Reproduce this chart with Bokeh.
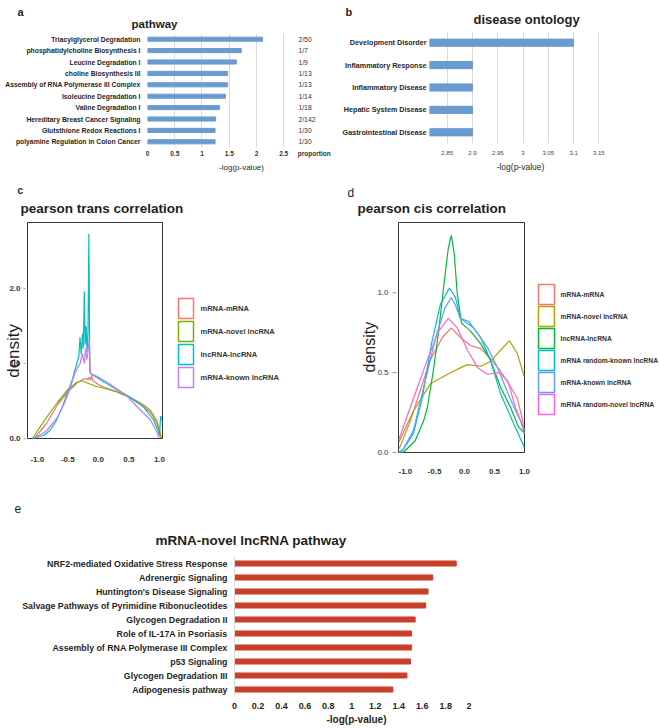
import math
from bokeh.plotting import figure
from bokeh.layouts import column, row
from bokeh.models import Range1d, FactorRange, FixedTicker, NumeralTickFormatter
from bokeh.core.properties import value
from bokeh.embed import file_html
from bokeh.resources import INLINE

FONT = "Liberation Sans"
BLUE = "#6A9BD0"
RED = "#C8402A"
GRID = "#D9D9D9"
DARK = "#1F1F1F"

# ---------------- data ----------------
pathway_names = ["Triacylglycerol Degradation", "phosphatidylcholine Biosynthesis I",
                 "Leucine Degradation I", "choline Biosynthesis III",
                 "Assembly of RNA Polymerase III Complex", "Isoleucine Degradation I",
                 "Valine Degradation I", "Hereditary Breast Cancer Signaling",
                 "Glutsthione Redox Reactions I", "polyamine Regulation in Colon Cancer"]
pathway_logp = [2.11, 1.72, 1.63, 1.47, 1.47, 1.43, 1.32, 1.25, 1.24, 1.24]
pathway_ratio = ["2/50", "1/7", "1/9", "1/13", "1/13", "1/14", "1/18", "2/142", "1/30", "1/30"]
pathway_ticks = [0, 0.5, 1, 1.5, 2, 2.5]
pathway_tick_labels = ["0", "0.5", "1", "1.5", "2", "2.5"]
ratio_column_title = "proportion"

disease_names = ["Development Disorder", "Inflammatory Response", "Inflammatory Disease",
                 "Hepatic System Disease", "Gastrointestinal Disease"]
disease_logp = [3.10, 2.90, 2.90, 2.90, 2.90]
disease_ticks = [2.85, 2.9, 2.95, 3.0, 3.05, 3.1, 3.15]
disease_axis_min = 2.815

novel_names = ["NRF2-mediated Oxidative Stress Response", "Adrenergic Signaling",
               "Huntington's Disease Signaling", "Salvage Pathways of Pyrimidine Ribonucleotides",
               "Glycogen Degradation II", "Role of IL-17A in Psoriasis",
               "Assembly of RNA Polymerase III Complex", "p53 Signaling",
               "Glycogen Degradation III", "Adipogenesis pathway"]
novel_logp = [1.89, 1.69, 1.65, 1.63, 1.54, 1.51, 1.51, 1.50, 1.47, 1.35]
novel_ticks = [0, 0.2, 0.4, 0.6, 0.8, 1, 1.2, 1.4, 1.6, 1.8, 2]

# trans correlation densities (panel c)
trans_names = ["mRNA-mRNA", "mRNA-novel lncRNA", "lncRNA-lncRNA", "mRNA-known lncRNA"]
trans_colors = ["#F8766D", "#7CAE00", "#00BFC4", "#C77CFF"]
trans_mm_x = [-1.05, -0.85, -0.67, -0.5, -0.35, -0.25, -0.2, -0.17, -0.15, -0.13, -0.11, -0.09,
              0.0, 0.1, 0.3, 0.5, 0.7, 0.85, 0.95, 1.0, 1.03]
trans_mm_y = [0.0, 0.2, 0.45, 0.62, 0.74, 0.79, 0.80, 0.78, 0.82, 0.78, 0.84, 0.77,
              0.72, 0.68, 0.63, 0.56, 0.47, 0.38, 0.25, 0.12, 0.0]
trans_novel_x = [-1.08, -0.85, -0.67, -0.5, -0.35, -0.27, -0.15, -0.05, 0.1, 0.3, 0.5, 0.7,
                 0.85, 0.95, 1.0, 1.03]
trans_novel_y = [0.0, 0.28, 0.48, 0.65, 0.75, 0.77, 0.73, 0.70, 0.67, 0.62, 0.55, 0.45,
                 0.35, 0.22, 0.1, 0.0]
trans_lnc_x = [-1.08, -0.9, -0.8, -0.7, -0.6, -0.5, -0.42, -0.36, -0.32, -0.3, -0.28, -0.26,
               -0.245, -0.23, -0.215, -0.2, -0.185, -0.17, -0.155, -0.14, -0.12, 0.0, 0.2,
               0.48, 0.74, 0.9, 0.97, 1.0, 1.02, 1.04]
trans_lnc_y = [0.0, 0.04, 0.1, 0.22, 0.4, 0.62, 0.8, 0.98, 1.1, 1.35, 1.12, 1.4,
               1.2, 1.96, 1.25, 1.5, 1.15, 1.4, 2.73, 0.88, 0.86, 0.8, 0.7,
               0.57, 0.42, 0.25, 0.12, 0.04, 0.3, 0.25]
trans_known_x = [-1.05, -0.85, -0.67, -0.55, -0.46, -0.38, -0.3, -0.26, -0.23, -0.21, -0.19,
                 -0.17, -0.15, -0.13, 0.0, 0.2, 0.45, 0.7, 0.85, 0.95, 1.0]
trans_known_y = [0.0, 0.1, 0.28, 0.48, 0.68, 0.88, 1.0, 1.13, 1.0, 1.2, 1.05,
                 1.15, 1.33, 0.87, 0.82, 0.72, 0.58, 0.37, 0.25, 0.1, 0.0]
trans_yticks = [0, 1, 2]
trans_ytick_labels = ["0.0", "1.0", "2.0"]

# cis correlation densities (panel d)
cis_names = ["mRNA-mRNA", "mRNA-novel lncRNA", "lncRNA-lncRNA", "mRNA random-known lncRNA",
             "mRNA-known lncRNA", "mRNA random-novel lncRNA"]
cis_colors = ["#F8766D", "#B79F00", "#00BA38", "#00BFC4", "#619CFF", "#F564E3"]
cis_mm_x = [-1.1, -1.07, -0.9, -0.78, -0.57, -0.37, -0.22, -0.07, 0.1, 0.27, 0.43, 0.6,
            0.77, 0.88, 0.97, 1.0]
cis_mm_y = [0.02, 0.04, 0.2, 0.34, 0.58, 0.72, 0.78, 0.72, 0.67, 0.65, 0.59, 0.51,
            0.41, 0.34, 0.2, 0.12]
cis_novel_x = [-1.1, -0.85, -0.57, -0.28, -0.07, 0.05, 0.27, 0.43, 0.6, 0.75, 0.88, 1.0]
cis_novel_y = [0.06, 0.26, 0.43, 0.49, 0.53, 0.55, 0.54, 0.57, 0.64, 0.70, 0.62, 0.47]
cis_lnc_x = [-1.1, -1.02, -0.82, -0.68, -0.62, -0.52, -0.43, -0.35, -0.27, -0.22, -0.17,
             -0.12, -0.05, 0.1, 0.27, 0.43, 0.6, 0.77, 0.9, 1.0]
cis_lnc_y = [0.0, 0.0, 0.075, 0.2, 0.28, 0.51, 0.76, 1.03, 1.28, 1.36, 1.24,
             0.99, 0.81, 0.76, 0.68, 0.58, 0.41, 0.28, 0.16, 0.12]
cis_rknown_x = [-1.1, -1.02, -0.85, -0.7, -0.55, -0.4, -0.25, -0.15, -0.07, 0.07, 0.27, 0.43,
                0.6, 0.82, 1.0]
cis_rknown_y = [0.0, 0.02, 0.12, 0.35, 0.68, 0.93, 1.03, 0.97, 0.84, 0.82, 0.72, 0.58,
                0.37, 0.18, 0.03]
cis_known_x = [-1.1, -1.05, -0.85, -0.68, -0.48, -0.32, -0.22, -0.15, -0.07, 0.15, 0.38, 0.55,
               0.77, 0.93, 1.0]
cis_known_y = [0.0, 0.0, 0.14, 0.41, 0.72, 0.91, 0.97, 0.92, 0.84, 0.78, 0.66, 0.53,
               0.33, 0.2, 0.12]
cis_rnovel_x = [-1.1, -0.85, -0.62, -0.43, -0.27, -0.12, 0.05, 0.22, 0.38, 0.57, 0.72, 0.85, 1.0]
cis_rnovel_y = [0.075, 0.34, 0.58, 0.76, 0.84, 0.78, 0.64, 0.53, 0.49, 0.5, 0.45, 0.28, 0.14]
cis_yticks = [0, 0.5, 1.0]
cis_ytick_labels = ["0.0", "0.5", "1.0"]

corr_ticks = [-1.0, -0.5, 0.0, 0.5, 1.0]


# ---------------- helpers ----------------
def make_fig(w, h, xr, yr, left=0, right=0, top=0, bottom=0, axes=True):
    kw = {} if axes else dict(x_axis_location=None, y_axis_location=None)
    p = figure(width=w, height=h, x_range=xr, y_range=yr, output_backend="svg",
               toolbar_location=None, min_border_left=left, min_border_right=right,
               min_border_top=top, min_border_bottom=bottom, **kw)
    p.outline_line_color = None
    p.background_fill_color = "white"
    p.border_fill_color = "white"
    if not axes:
        p.grid.visible = False
    return p


def page_fig(x0, y0, w, h):
    # a text-only strip whose data coordinates equal page pixels
    return make_fig(w, h, Range1d(x0, x0 + w), Range1d(y0 + h, y0), axes=False)


def txt(p, x, y, s, size, style="normal", align="left", baseline="alphabetic",
        angle=0.0, color=DARK):
    xs = x if isinstance(x, list) else [x]
    ys = y if isinstance(y, list) else [y]
    ss = s if isinstance(s, list) else [s]
    p.text(x=xs, y=ys, text=ss, text_font=value(FONT), text_font_size=value(f"{size}px"),
           text_font_style=style, text_align=align, text_baseline=baseline, angle=angle,
           text_color=color)


def style_axis(ax, size, bold, color, standoff):
    ax.axis_line_color = None
    ax.major_tick_line_color = None
    ax.minor_tick_line_color = None
    ax.major_tick_out = 0
    ax.major_tick_in = 0
    ax.minor_tick_out = 0
    ax.minor_tick_in = 0
    ax.major_label_text_font = FONT
    ax.major_label_text_font_size = f"{size}px"
    ax.major_label_text_font_style = "bold" if bold else "normal"
    ax.major_label_text_color = color
    ax.major_label_standoff = standoff


def axis_title(ax, text, size, bold=False, standoff=2):
    ax.axis_label = text
    ax.axis_label_text_font = FONT
    ax.axis_label_text_font_size = f"{size}px"
    ax.axis_label_text_font_style = "bold" if bold else "normal"
    ax.axis_label_text_color = DARK
    ax.axis_label_standoff = standoff


def solo(p):
    # wrap a figure so that sibling figures do not share frame alignment
    return column(p)


# ---------------- row 1 : header ----------------
h1 = page_fig(0, 0, 660, 31)
txt(h1, 17, 11, "a", 11, "bold")
txt(h1, 131, 23, "pathway", 11.5, "bold")
txt(h1, 345, 11, "b", 11, "bold")
txt(h1, 473, 19, "disease ontology", 13, "bold")

# ---------------- panel a ----------------
pa = make_fig(338, 143, Range1d(0, 3.45), FactorRange(factors=pathway_names[::-1]),
              left=147, right=3, top=2, bottom=24)
pa.hbar(y=pathway_names, right=pathway_logp, left=0, height=0.36, color=BLUE)
ratio_x = 2.77
txt(pa, [ratio_x] * len(pathway_names), pathway_names, pathway_ratio, 6.8,
    baseline="middle", color="#333333")
prop_tick = 3.06
pa.xaxis.ticker = FixedTicker(ticks=pathway_ticks + [prop_tick])
pa.xaxis.major_label_overrides = dict(zip(pathway_ticks + [prop_tick],
                                          pathway_tick_labels + [ratio_column_title]))
style_axis(pa.xaxis[0], 6.5, True, "#333333", 2)
axis_title(pa.xaxis[0], "-log(p-value)", 8, standoff=3)
style_axis(pa.yaxis[0], 6.8, True, DARK, 7)
pa.xgrid.ticker = FixedTicker(ticks=pathway_ticks)
pa.xgrid.grid_line_color = GRID
pa.ygrid.visible = False

# ---------------- panel b ----------------
pb = make_fig(322, 143, Range1d(disease_axis_min, 3.175), FactorRange(factors=disease_names[::-1]),
              left=91, right=49, top=0, bottom=30)
pb.hbar(y=disease_names, right=disease_logp, left=disease_axis_min, height=0.32, color=BLUE)
pb.xaxis.ticker = FixedTicker(ticks=disease_ticks)
pb.xaxis.formatter = NumeralTickFormatter(format="0.[00]")
style_axis(pb.xaxis[0], 6, False, "#444444", 7)
axis_title(pb.xaxis[0], "-log(p-value)", 8.5, standoff=4)
style_axis(pb.yaxis[0], 7.2, True, DARK, 3)
pb.xgrid.ticker = FixedTicker(ticks=disease_ticks)
pb.xgrid.grid_line_color = GRID
pb.ygrid.visible = False

# ---------------- row 2 : header ----------------
h2 = page_fig(0, 174, 660, 48)
txt(h2, 17, 190, "c", 10, "bold")
txt(h2, 20, 208, "pearson trans correlation", 13.5, "bold")
txt(h2, 347, 192, "d", 12)
txt(h2, 357, 208, "pearson cis correlation", 13.5, "bold")

# ---------------- panel c ----------------
# left strip: y tick labels and "density" on the same vertical scale as panel c
lc = make_fig(27, 256, Range1d(0, 27), Range1d(-0.25, 2.88), bottom=21, axes=False)
txt(lc, [20] * len(trans_yticks), trans_yticks, trans_ytick_labels, 8, "bold",
    align="right", baseline="middle", color="#333333")
lc.segment(x0=[23] * len(trans_yticks), x1=[25] * len(trans_yticks), y0=trans_yticks,
           y1=trans_yticks, line_color="#999999", line_width=1)
txt(lc, 12.5, 1.17, "density", 17, align="center", angle=math.pi / 2)

pc = make_fig(141, 256, Range1d(-1.16, 1.05), Range1d(0, 2.88), right=6, bottom=40)
pc.yaxis.visible = False
pc.outline_line_color = "#333333"
pc.outline_line_width = 1
pc.grid.visible = False
trans_series = [(trans_mm_x, trans_mm_y), (trans_novel_x, trans_novel_y),
                (trans_lnc_x, trans_lnc_y), (trans_known_x, trans_known_y)]
for (xs, ys), col in zip(trans_series, trans_colors):
    pc.line(xs, ys, line_color=col, line_width=1.2)
pc.xaxis.ticker = FixedTicker(ticks=corr_ticks)
pc.xaxis.formatter = NumeralTickFormatter(format="0.0")
style_axis(pc.xaxis[0], 8, True, "#333333", 18)

legc = page_fig(168, 222, 184, 256)
legc_y = [308 + 23 * i for i in range(len(trans_names))]
legc.rect(x=[185.5] * len(trans_names), y=legc_y, width=15, height=20, fill_color=None,
          line_color=trans_colors, line_width=1.5)
txt(legc, [200] * len(trans_names), legc_y, trans_names, 7.5, "bold", baseline="middle",
    color="#333333")

# ---------------- panel d ----------------
ld = make_fig(46, 256, Range1d(352, 398), Range1d(-0.1, 1.44), bottom=10, axes=False)
txt(ld, [388] * len(cis_yticks), cis_yticks, cis_ytick_labels, 8, align="right",
    baseline="middle", color="#333333")
ld.segment(x0=[392] * len(cis_yticks), x1=[396] * len(cis_yticks), y0=cis_yticks,
           y1=cis_yticks, line_color="#999999", line_width=1)
txt(ld, 369, 0.66, "density", 16, align="center", angle=math.pi / 2)

pd_ = make_fig(134, 256, Range1d(-1.1, 1.0), Range1d(0, 1.44), right=8, bottom=26)
pd_.yaxis.visible = False
pd_.outline_line_color = "#333333"
pd_.outline_line_width = 1
pd_.grid.visible = False
cis_series = [(cis_mm_x, cis_mm_y), (cis_novel_x, cis_novel_y), (cis_lnc_x, cis_lnc_y),
              (cis_rknown_x, cis_rknown_y), (cis_known_x, cis_known_y),
              (cis_rnovel_x, cis_rnovel_y)]
for (xs, ys), col in zip(cis_series, cis_colors):
    pd_.line(xs, ys, line_color=col, line_width=1.2)
pd_.xaxis.ticker = FixedTicker(ticks=corr_ticks)
pd_.xaxis.formatter = NumeralTickFormatter(format="0.0")
style_axis(pd_.xaxis[0], 8, True, "#333333", 16)

legd = page_fig(532, 222, 128, 256)
legd_y = [294 + 22 * i for i in range(len(cis_names))]
legd.rect(x=[546] * len(cis_names), y=legd_y, width=16, height=20, fill_color=None,
          line_color=cis_colors, line_width=1.5)
txt(legd, [560] * len(cis_names), legd_y, cis_names, 6.8, "bold", baseline="middle",
    color="#333333")

# ---------------- row 3 : header + panel e ----------------
h3 = page_fig(0, 478, 660, 78)
txt(h3, 14, 508, "e", 12)
txt(h3, 155, 540, "mRNA-novel lncRNA pathway", 13.5, "bold")

pe = make_fig(660, 171, Range1d(0, 2.08), FactorRange(factors=novel_names[::-1]),
              left=234, right=182, top=0, bottom=31)
pe.hbar(y=novel_names, right=novel_logp, left=0, height=0.36, color=RED)
pe.xaxis.ticker = FixedTicker(ticks=novel_ticks)
pe.xaxis.formatter = NumeralTickFormatter(format="0.[0]")
style_axis(pe.xaxis[0], 9, True, DARK, 6)
axis_title(pe.xaxis[0], "-log(p-value)", 10, bold=True, standoff=2)
style_axis(pe.yaxis[0], 8.8, True, DARK, 7)
pe.yaxis.axis_line_color = GRID
pe.grid.visible = False

layout = column(
    row(solo(h1)),
    row(solo(pa), solo(pb)),
    row(solo(h2)),
    row(solo(lc), solo(pc), solo(legc), solo(ld), solo(pd_), solo(legd)),
    row(solo(h3)),
    row(solo(pe)),
)
open("out.html", "w").write(file_html(layout, INLINE))
